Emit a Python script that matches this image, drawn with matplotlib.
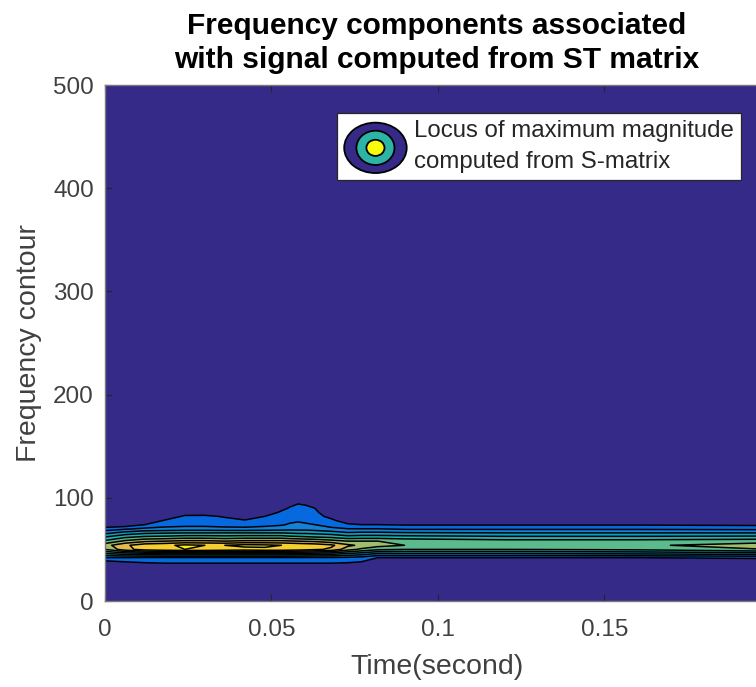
import numpy as np
import matplotlib
matplotlib.use('Agg')
import matplotlib.pyplot as plt
from matplotlib.colors import LinearSegmentedColormap, Normalize
from matplotlib.legend_handler import HandlerBase
from matplotlib.patches import Ellipse, Patch

plt.rcParams['font.family'] = ['Liberation Sans', 'DejaVu Sans']

# ── Data ───────────────────────────────────────────────────────────────────
# time axis (s) and frequency axis (Hz) of the magnitude grid
times = [0, 0.006, 0.012, 0.018, 0.024, 0.03, 0.036, 0.042, 0.048, 0.053,
         0.0555, 0.058, 0.0605, 0.063, 0.068, 0.073, 0.077, 0.082, 0.09,
         0.12, 0.16, 0.1995]
freqs = [0, 30, 34, 38, 42, 46, 50, 54, 58, 62, 66, 70, 74, 78, 82, 86,
         90, 94, 98, 500]

# normalised S-transform magnitude, one profile (over freqs) per time
profiles = [
    [0, 0, 0.00, 0.07, 0.20, 0.40, 0.60, 0.66, 0.52, 0.40, 0.27, 0.14, 0.02, 0.00, 0.00, 0.00, 0.00, 0.00, 0.00, 0],
    [0, 0, 0.02, 0.10, 0.20, 0.45, 0.76, 0.78, 0.62, 0.48, 0.34, 0.18, 0.03, 0.00, 0.00, 0.00, 0.00, 0.00, 0.00, 0],
    [0, 0, 0.03, 0.12, 0.19, 0.48, 0.85, 0.86, 0.68, 0.52, 0.38, 0.22, 0.10, 0.01, 0.00, 0.00, 0.00, 0.00, 0.00, 0],
    [0, 0, 0.04, 0.13, 0.19, 0.50, 0.88, 0.88, 0.70, 0.53, 0.39, 0.23, 0.16, 0.11, 0.02, 0.00, 0.00, 0.00, 0.00, 0],
    [0, 0, 0.04, 0.13, 0.19, 0.50, 0.90, 0.92, 0.72, 0.55, 0.40, 0.24, 0.17, 0.15, 0.12, 0.03, 0.00, 0.00, 0.00, 0],
    [0, 0, 0.04, 0.13, 0.19, 0.50, 0.90, 0.90, 0.72, 0.55, 0.40, 0.24, 0.17, 0.15, 0.12, 0.04, 0.00, 0.00, 0.00, 0],
    [0, 0, 0.04, 0.13, 0.19, 0.50, 0.88, 0.90, 0.70, 0.54, 0.40, 0.23, 0.16, 0.13, 0.09, 0.00, 0.00, 0.00, 0.00, 0],
    [0, 0, 0.04, 0.13, 0.19, 0.50, 0.86, 0.93, 0.72, 0.55, 0.40, 0.23, 0.15, 0.11, 0.03, 0.00, 0.00, 0.00, 0.00, 0],
    [0, 0, 0.04, 0.13, 0.19, 0.50, 0.88, 0.92, 0.72, 0.55, 0.40, 0.24, 0.17, 0.13, 0.10, 0.01, 0.00, 0.00, 0.00, 0],
    [0, 0, 0.04, 0.13, 0.19, 0.50, 0.88, 0.90, 0.72, 0.55, 0.40, 0.25, 0.19, 0.16, 0.14, 0.12, 0.06, 0.00, 0.00, 0],
    [0, 0, 0.04, 0.13, 0.19, 0.49, 0.87, 0.89, 0.71, 0.53, 0.39, 0.26, 0.21, 0.18, 0.15, 0.13, 0.11, 0.07, 0.00, 0],
    [0, 0, 0.04, 0.13, 0.19, 0.48, 0.86, 0.88, 0.70, 0.52, 0.38, 0.26, 0.22, 0.19, 0.16, 0.14, 0.12, 0.10, 0.02, 0],
    [0, 0, 0.04, 0.13, 0.19, 0.48, 0.84, 0.87, 0.69, 0.51, 0.38, 0.26, 0.21, 0.18, 0.16, 0.14, 0.12, 0.09, 0.00, 0],
    [0, 0, 0.04, 0.13, 0.19, 0.47, 0.82, 0.86, 0.68, 0.50, 0.37, 0.25, 0.20, 0.17, 0.15, 0.13, 0.10, 0.02, 0.00, 0],
    [0, 0, 0.04, 0.13, 0.19, 0.45, 0.78, 0.82, 0.64, 0.48, 0.35, 0.22, 0.16, 0.13, 0.06, 0.00, 0.00, 0.00, 0.00, 0],
    [0, 0, 0.03, 0.12, 0.18, 0.40, 0.64, 0.72, 0.60, 0.44, 0.31, 0.20, 0.12, 0.02, 0.00, 0.00, 0.00, 0.00, 0.00, 0],
    [0, 0, 0.02, 0.10, 0.16, 0.36, 0.58, 0.68, 0.60, 0.45, 0.32, 0.20, 0.10, 0.01, 0.00, 0.00, 0.00, 0.00, 0.00, 0],
    [0, 0, 0.00, 0.02, 0.10, 0.30, 0.52, 0.64, 0.60, 0.45, 0.32, 0.20, 0.10, 0.01, 0.00, 0.00, 0.00, 0.00, 0.00, 0],
    [0, 0, 0.00, 0.02, 0.10, 0.30, 0.50, 0.60, 0.57, 0.44, 0.31, 0.18, 0.09, 0.00, 0.00, 0.00, 0.00, 0.00, 0.00, 0],
    [0, 0, 0.00, 0.02, 0.10, 0.30, 0.50, 0.57, 0.54, 0.42, 0.30, 0.18, 0.09, 0.00, 0.00, 0.00, 0.00, 0.00, 0.00, 0],
    [0, 0, 0.00, 0.02, 0.10, 0.32, 0.52, 0.58, 0.54, 0.42, 0.30, 0.18, 0.09, 0.00, 0.00, 0.00, 0.00, 0.00, 0.00, 0],
    [0, 0, 0.00, 0.03, 0.12, 0.36, 0.60, 0.66, 0.56, 0.43, 0.30, 0.17, 0.08, 0.00, 0.00, 0.00, 0.00, 0.00, 0.00, 0],
]

x_ticks = [0, 0.05, 0.1, 0.15]
x_tick_labels = ['0', '0.05', '0.1', '0.15']
y_ticks = [0, 100, 200, 300, 400, 500]

# ── MATLAB (R2014) parula, coarse anchors ──────────────────────────────────
parula = LinearSegmentedColormap.from_list('parula', [
    (0.2081, 0.1663, 0.5292), (0.0117, 0.3875, 0.8820),
    (0.0779, 0.5040, 0.8384), (0.0228, 0.6535, 0.7768),
    (0.2178, 0.7250, 0.6193), (0.5709, 0.7485, 0.4494),
    (0.8824, 0.7274, 0.3217), (0.9789, 0.8271, 0.1633),
    (0.9763, 0.9831, 0.0538)])

Z = np.array(profiles).T
levels = np.round(np.arange(0.1, 1.01, 0.1), 2)

fig = plt.figure(figsize=(7.56, 6.87), dpi=100)
ax = fig.add_axes([105 / 756, 86 / 687, 664 / 756, 516 / 687])
ax.set_facecolor(parula(0.0))

ax.contourf(times, freqs, Z, levels=levels, cmap=parula,
            norm=Normalize(0, 1))
ax.contour(times, freqs, Z, levels=levels, colors='k', linewidths=1.1)

ax.set_xlim(0, 0.1995)
ax.set_ylim(0, 500)
ax.set_xticks(x_ticks)
ax.set_xticklabels(x_tick_labels)
ax.set_yticks(y_ticks)
ax.tick_params(direction='in', length=5, width=0.8, colors='#262626',
               labelsize=17.5, top=True, right=True)
ax.tick_params(axis='x', pad=13, labelcolor='#404040')
ax.tick_params(axis='y', pad=8, labelcolor='#404040')
for sp in ax.spines.values():
    sp.set_color('#7a7a7a')
    sp.set_linewidth(1.0)

ax.set_xlabel('Time(second)', fontsize=20.5, color='#404040', labelpad=9)
ax.set_ylabel('Frequency contour', fontsize=20.5, color='#404040', labelpad=8)
ax.set_title('Frequency components associated\nwith signal computed from ST matrix',
             fontsize=21.5, fontweight='bold', color='black', pad=12,
             linespacing=1.3)


# legend icon: nested filled ellipses like MATLAB's contour legend glyph
class ContourIcon(HandlerBase):
    def create_artists(self, legend, orig_handle, xdescent, ydescent,
                       width, height, fontsize, trans):
        cx, cy = width / 2 - xdescent, height / 2 - ydescent
        arts = []
        for fw, fh, col in [(1.0, 1.0, parula(0.0)),
                            (0.61, 0.68, parula(0.47)),
                            (0.29, 0.32, parula(1.0))]:
            arts.append(Ellipse((cx, cy), width * fw, height * fh,
                                facecolor=col, edgecolor='k', lw=1.3,
                                transform=trans))
        return arts


proxy = Patch()
leg = ax.legend([proxy], ['Locus of maximum magnitude\ncomputed from S-matrix'],
                handler_map={Patch: ContourIcon()},
                loc='upper left', bbox_to_anchor=(337 / 756, 1 - 113 / 687),
                bbox_transform=fig.transFigure, borderaxespad=0,
                fontsize=17.3, handlelength=2.6, handleheight=2.85,
                handletextpad=0.3, borderpad=0.3, fancybox=False,
                framealpha=1, edgecolor='#262626')
leg.get_frame().set_linewidth(0.9)
for t in leg.get_texts():
    t.set_linespacing(1.5)
    t.set_color('#262626')

fig.savefig('out.png', dpi=100)
